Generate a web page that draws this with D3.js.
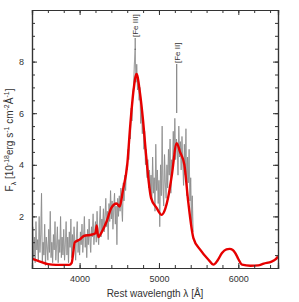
<!DOCTYPE html>
<html lang="en">
<head>
<meta charset="UTF-8">
<title>Spectrum</title>
<script src="https://d3js.org/d3.v7.min.js"></script>
<style>
  body { margin: 0; background: #fff; }
  text { font-family: "Liberation Sans", Arial, sans-serif; fill: #333; }
</style>
</head>
<body>
<svg id="chart" width="299" height="302"></svg>
<script>
// observed spectrum, 10 A steps from 3400 A
const obsStart = 3400, obsStep = 10;
const obsFlux = [
  0.9,1.6,0.4,1.2,0.2,1.8,0.7,1.1,0.3,2.0,
  0.6,1.3,2.9,0.2,1.0,0.5,1.7,0.1,1.2,0.8,
  0.3,1.5,0.6,2.2,0.4,1.0,0.2,1.3,0.7,1.8,
  0.3,0.9,1.6,0.2,1.1,0.6,2.0,0.4,1.2,0.5,
  1.5,0.3,0.9,1.8,0.5,1.2,0.2,1.4,0.8,1.9,
  0.4,1.3,0.7,1.6,0.9,0.3,1.2,1.8,0.6,1.1,
  0.5,1.4,0.9,1.7,0.6,1.2,2.0,0.8,1.3,0.4,
  1.5,0.9,1.9,1.1,0.6,1.6,1.2,2.1,0.9,1.4,
  1.8,1.0,2.2,1.3,0.9,1.7,2.4,1.2,1.9,1.5,
  2.3,1.4,2.0,2.7,1.6,2.2,1.1,2.5,1.8,3.0,
  1.9,2.6,1.5,2.3,2.9,1.7,2.4,0.9,2.7,2.0,
  2.8,2.2,3.1,2.4,1.8,3.3,2.6,3.6,3.0,4.0,
  3.8,4.6,4.2,5.3,5.0,6.2,5.7,6.8,7.0,7.9,
  8.5,7.2,7.9,6.9,7.4,6.5,7.0,5.6,6.3,5.2,
  5.8,4.6,5.3,4.0,4.6,3.5,4.2,3.1,3.8,2.9,
  3.6,2.6,4.3,2.9,3.5,2.2,4.8,3.0,3.8,2.5,
  3.4,1.6,4.0,2.8,5.5,3.1,2.4,4.4,3.3,2.7,
  4.0,3.1,4.6,3.6,5.0,2.9,4.2,3.8,5.3,4.4,
  5.8,4.2,5.0,4.7,3.6,5.5,4.3,4.9,3.8,5.1,
  4.1,3.2,4.8,3.6,5.4,2.8,4.3,3.3,4.6,2.6,
  3.5,1.6,2.8,1.4
];

// model spectrum (red)
const modelWave = [3400,3500,3600,3700,3800,3870,3900,3940,4000,4060,4130,4200,4215,4235,4280,4340,4400,4465,4505,4545,4600,4640,4680,4717,4760,4800,4835,4900,4970,5034,5080,5118,5160,5224,5265,5320,5370,5434,5519,5624,5687,5740,5794,5850,5890,5930,5962,6000,6047,6152,6250,6320,6420,6468,6500];
const modelFlux = [0.36,0.25,0.15,0.12,0.12,0.12,0.2,1.0,1.1,1.25,1.28,1.35,1.65,1.2,1.4,1.8,2.33,2.5,2.38,3.0,4.0,5.6,6.9,7.52,6.8,5.7,4.46,2.72,2.33,2.06,2.3,2.77,3.55,4.84,4.5,4.0,2.53,1.16,0.71,0.32,0.13,0.3,0.58,0.72,0.74,0.7,0.58,0.35,0.13,0.09,0.1,0.17,0.25,0.33,0.45];

const xTicks = [4000, 5000, 6000];
const yTicks = [2, 4, 6, 8];
const lineLabels = [
  {name: "[Fe III]", wave: 4700, y0: 12, y1: 50},
  {name: "[Fe II]", wave: 5224, y0: 38, y1: 113}
];

const W = 299, H = 302;
const m = {left: 32, right: 21, top: 10, bottom: 34};
const svg = d3.select("#chart");

const x = d3.scaleLinear().domain([3400, 6500]).range([m.left, W - m.right]);
const y = d3.scaleLinear().domain([0, 10]).range([H - m.bottom, m.top]);

svg.append("clipPath").attr("id", "clip")
  .append("rect").attr("x", m.left).attr("y", m.top)
  .attr("width", W - m.left - m.right).attr("height", H - m.top - m.bottom);

const plot = svg.append("g").attr("clip-path", "url(#clip)");

const obs = obsFlux.map((f, i) => [obsStart + i * obsStep, f]);
const line = d3.line().x(d => x(d[0])).y(d => y(d[1]));

plot.append("path").datum(obs)
  .attr("fill", "none").attr("stroke", "#c4c4c4").attr("stroke-width", 1.1)
  .attr("d", line);
plot.append("path").datum(obs)
  .attr("fill", "none").attr("stroke", "#6a6a6a").attr("stroke-width", 0.4)
  .attr("d", line);

const model = modelWave.map((w, i) => [w, modelFlux[i]]);
plot.append("path").datum(model)
  .attr("fill", "none").attr("stroke", "#e60000").attr("stroke-width", 2.4)
  .attr("stroke-linejoin", "round")
  .attr("d", d3.line().curve(d3.curveMonotoneX).x(d => x(d[0])).y(d => y(d[1])));

// line identifications
lineLabels.forEach(l => {
  svg.append("line")
    .attr("x1", x(l.wave)).attr("x2", x(l.wave))
    .attr("y1", l.y0 + 26).attr("y2", l.y1)
    .attr("stroke", "#444").attr("stroke-width", 0.8);
  svg.append("text")
    .attr("transform", `translate(${x(l.wave) + 3},${l.y0 + 25}) rotate(-90)`)
    .attr("font-size", 8)
    .text(l.name);
});

// axes: ticks inward on all four sides
const axisColor = "#333";
const xMinor = d3.range(3400, 6501, 200);
const yMinor = d3.range(0, 10.01, 0.5);

svg.append("g").attr("transform", `translate(0,${H - m.bottom})`)
  .call(d3.axisBottom(x).tickValues(xMinor).tickSize(-3).tickFormat(""));
svg.append("g").attr("transform", `translate(0,${H - m.bottom})`)
  .call(d3.axisBottom(x).tickValues(xTicks).tickSize(-5).tickPadding(8).tickFormat(d3.format("d")));
svg.append("g").attr("transform", `translate(0,${m.top})`)
  .call(d3.axisTop(x).tickValues(xMinor).tickSize(-3).tickFormat(""));
svg.append("g").attr("transform", `translate(0,${m.top})`)
  .call(d3.axisTop(x).tickValues(xTicks).tickSize(-5).tickFormat(""));

svg.append("g").attr("transform", `translate(${m.left},0)`)
  .call(d3.axisLeft(y).tickValues(yMinor).tickSize(-3).tickFormat(""));
svg.append("g").attr("transform", `translate(${m.left},0)`)
  .call(d3.axisLeft(y).tickValues(yTicks).tickSize(-5).tickPadding(8).tickFormat(d3.format("d")));
svg.append("g").attr("transform", `translate(${W - m.right},0)`)
  .call(d3.axisRight(y).tickValues(yMinor).tickSize(-3).tickFormat(""));
svg.append("g").attr("transform", `translate(${W - m.right},0)`)
  .call(d3.axisRight(y).tickValues(yTicks).tickSize(-5).tickFormat(""));

svg.selectAll(".domain").attr("stroke", axisColor).attr("stroke-width", 1.2);
svg.selectAll(".tick line").attr("stroke", axisColor).attr("stroke-width", 1);
svg.selectAll(".tick text").attr("font-size", 9).attr("fill", "#333")
  .attr("font-family", "Liberation Sans, Arial, sans-serif");

// axis titles
svg.append("text")
  .attr("x", 155).attr("y", 297)
  .attr("text-anchor", "middle").attr("font-size", 10)
  .text("Rest wavelength \u03bb  [\u00c5]");

const yt = svg.append("text")
  .attr("transform", `translate(13,140) rotate(-90)`)
  .attr("text-anchor", "middle").attr("font-size", 10);
yt.append("tspan").text("F");
yt.append("tspan").attr("font-size", 7).attr("dy", 3).text("\u03bb");
yt.append("tspan").attr("dy", -3).text(" [10");
yt.append("tspan").attr("font-size", 7).attr("dy", -4).text("-18");
yt.append("tspan").attr("dy", 4).text("erg s");
yt.append("tspan").attr("font-size", 7).attr("dy", -4).text("-1");
yt.append("tspan").attr("dy", 4).text(" cm");
yt.append("tspan").attr("font-size", 7).attr("dy", -4).text("-2");
yt.append("tspan").attr("dy", 4).text("\u00c5");
yt.append("tspan").attr("font-size", 7).attr("dy", -4).text("-1");
yt.append("tspan").attr("dy", 4).text("]");
</script>
</body>
</html>
